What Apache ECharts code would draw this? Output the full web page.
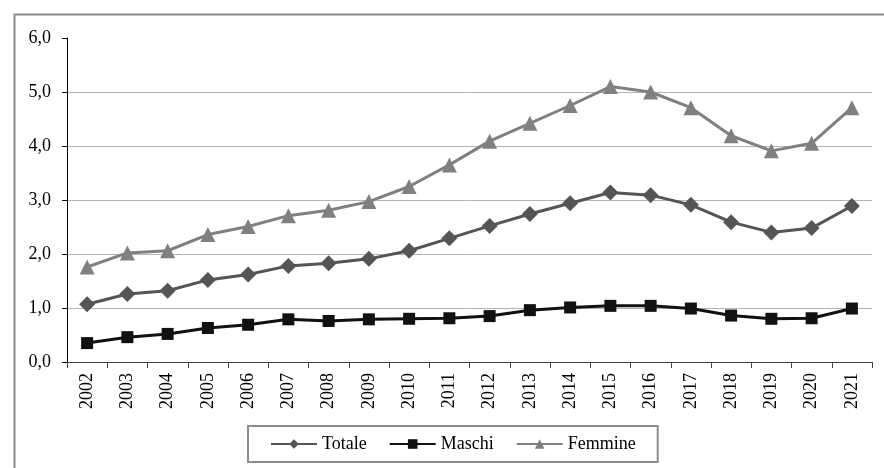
<!DOCTYPE html>
<html lang="it">
<head>
    <meta charset="utf-8">
    <title>Totale, Maschi, Femmine 2002-2021</title>
    <script src="https://cdn.jsdelivr.net/npm/echarts@6/dist/echarts.min.js"></script>
    <style type="text/css">
        html, body { height: 100%; }
        body { margin: 0; background: #fff; }
    </style>
</head>
<body>
    <div id="main" style="width:884px;height:468px;"></div>
    <script type="text/javascript">
        // anni sull'asse x
        var years = ['2002', '2003', '2004', '2005', '2006', '2007', '2008', '2009', '2010', '2011',
                     '2012', '2013', '2014', '2015', '2016', '2017', '2018', '2019', '2020', '2021'];
        // valori
        var totale = [1.07, 1.26, 1.32, 1.52, 1.62, 1.78, 1.83, 1.91, 2.06, 2.29,
                      2.52, 2.74, 2.94, 3.14, 3.09, 2.91, 2.59, 2.40, 2.48, 2.89];
        var maschi = [0.35, 0.46, 0.52, 0.63, 0.69, 0.79, 0.76, 0.79, 0.80, 0.81,
                      0.85, 0.96, 1.01, 1.04, 1.04, 0.99, 0.86, 0.80, 0.81, 0.99];
        var femmine = [1.76, 2.02, 2.06, 2.36, 2.51, 2.71, 2.81, 2.97, 3.25, 3.65,
                       4.09, 4.42, 4.75, 5.10, 5.00, 4.71, 4.19, 3.91, 4.05, 4.71];

        var font = 'Liberation Serif';
        var fontSize = 18;
        var myChart = echarts.init(document.getElementById('main'));

        function line(name, data, color, symbol, size) {
            return {
                name: name,
                type: 'line',
                data: data,
                symbol: symbol,
                symbolSize: size,
                showAllSymbol: true,
                lineStyle: { color: color, width: 3 },
                itemStyle: { color: color },
                emphasis: { disabled: true },
                z: 3
            };
        }

        var option = {
            animation: false,
            backgroundColor: '#fff',
            textStyle: { fontFamily: font },
            // cornice esterna
            graphic: [{
                type: 'rect',
                left: 12, top: 12,
                shape: { width: 900, height: 500 },
                style: { fill: 'none', stroke: '#8c8c8c', lineWidth: 2 },
                silent: true
            }],
            grid: { left: 67, right: 12, top: 38, bottom: 106 },
            legend: {
                left: 248, top: 426,
                padding: [9, 22, 9, 22],
                itemWidth: 46, itemHeight: 12, itemGap: 22,
                borderColor: '#8c8c8c', borderWidth: 2,
                textStyle: { fontFamily: font, fontSize: fontSize, color: '#000' },
                data: ['Totale', 'Maschi', 'Femmine']
            },
            xAxis: {
                type: 'category',
                data: years,
                boundaryGap: true,
                axisLine: { lineStyle: { color: '#444', width: 1 } },
                axisTick: { show: true, length: 6, lineStyle: { color: '#444' } },
                axisLabel: { rotate: 90, margin: 11, fontSize: fontSize, color: '#000', fontFamily: font }
            },
            yAxis: {
                type: 'value',
                min: 0, max: 6, interval: 1,
                axisLine: { show: true, lineStyle: { color: '#000', width: 1 } },
                axisTick: { show: true, length: 5, lineStyle: { color: '#000' } },
                axisLabel: {
                    margin: 16, fontSize: fontSize, color: '#000', fontFamily: font,
                    formatter: function (v) { return v.toFixed(1).replace('.', ','); }
                },
                splitLine: { show: true, showMaxLine: false, lineStyle: { color: '#b4b4b4', width: 1 } }
            },
            series: [
                line('Totale', totale, '#555555', 'diamond', 16),
                line('Maschi', maschi, '#111111', 'rect', 12),
                line('Femmine', femmine, '#808080', 'triangle', 15)
            ]
        };
        myChart.setOption(option);
    </script>
</body>
</html>
